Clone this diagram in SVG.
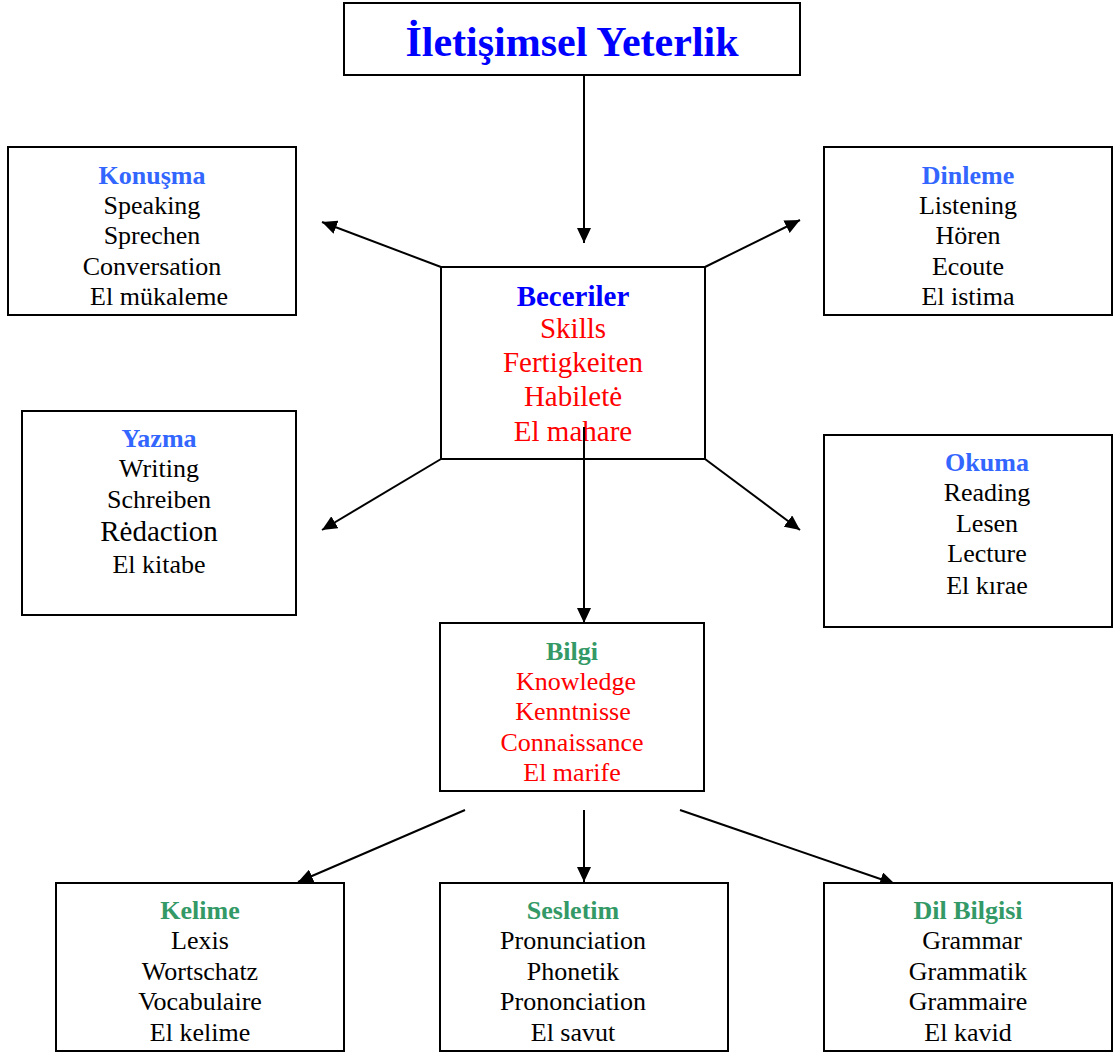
<svg xmlns="http://www.w3.org/2000/svg" width="1113" height="1052" viewBox="0 0 1113 1052">
<style>
rect.box{fill:#fff;stroke:#000;stroke-width:2}
text{font-family:"Liberation Serif","Times New Roman",serif;font-size:26px;text-anchor:middle;fill:#000}
.title{font-size:42px;font-weight:bold;fill:#0000FF}
.hb{font-weight:bold;fill:#3366FF}
.hg{font-weight:bold;fill:#339966}
.hbb{font-weight:bold;fill:#0000FF;font-size:29px}
.red{fill:#FF0000}
.big{font-size:29px}
#connectors line{stroke:#000;stroke-width:2;marker-end:url(#ah)}
</style>
<defs>
<marker id="ah" markerUnits="userSpaceOnUse" markerWidth="16" markerHeight="14" refX="15" refY="7" orient="auto">
<path d="M0,0 L15,7 L0,14 z" fill="#000"/>
</marker>
</defs>
<rect width="1113" height="1052" fill="#fff"/>
<g id="connectors">
<line x1="584" y1="75" x2="584" y2="243"/>
<line x1="441" y1="267" x2="322" y2="222"/>
<line x1="705" y1="267" x2="800" y2="220"/>
<line x1="441" y1="459" x2="322" y2="530"/>
<line x1="705" y1="459" x2="800" y2="530"/>
<line x1="465" y1="810" x2="298" y2="882"/>
<line x1="584" y1="810" x2="584" y2="882"/>
<line x1="680" y1="810" x2="895" y2="884"/>
</g>
<g id="title">
<rect class="box" x="344" y="3" width="456" height="72"/>
<text class="title" x="572" y="56">İletişimsel Yeterlik</text>
</g>
<g id="konusma">
<rect class="box" x="8" y="147" width="288" height="168"/>
<text class="hb" x="152" y="184">Konuşma</text>
<text x="152" y="214">Speaking</text>
<text x="152" y="244">Sprechen</text>
<text x="152" y="275">Conversation</text>
<text x="159" y="305">El mükaleme</text>
</g>
<g id="dinleme">
<rect class="box" x="824" y="147" width="288" height="168"/>
<text class="hb" x="968" y="184">Dinleme</text>
<text x="968" y="214">Listening</text>
<text x="968" y="244">Hören</text>
<text x="968" y="275">Ecoute</text>
<text x="968" y="305">El istima</text>
</g>
<g id="beceriler">
<rect class="box" x="441" y="267" width="264" height="192"/>
<text class="hbb" x="573" y="306">Beceriler</text>
<text class="red big" x="573" y="338">Skills</text>
<text class="red big" x="573" y="372">Fertigkeiten</text>
<text class="red big" x="573" y="406">Habiletė</text>
<text class="red big" x="573" y="441">El mahare</text>
</g>
<line x1="584" y1="427" x2="584" y2="623" stroke="#000" stroke-width="2" marker-end="url(#ah)"/>
<g id="yazma">
<rect class="box" x="22" y="411" width="274" height="204"/>
<text class="hb" x="159" y="447">Yazma</text>
<text x="159" y="477">Writing</text>
<text x="159" y="508">Schreiben</text>
<text class="big" x="159" y="541">Rėdaction</text>
<text x="159" y="573">El kitabe</text>
</g>
<g id="okuma">
<rect class="box" x="824" y="435" width="288" height="192"/>
<text class="hb" x="987" y="471">Okuma</text>
<text x="987" y="501">Reading</text>
<text x="987" y="532">Lesen</text>
<text x="987" y="562">Lecture</text>
<text x="987" y="594">El kırae</text>
</g>
<g id="bilgi">
<rect class="box" x="440" y="623" width="264" height="168"/>
<text class="hg" x="572" y="660">Bilgi</text>
<text class="red" x="576" y="690">Knowledge</text>
<text class="red" x="573" y="720">Kenntnisse</text>
<text class="red" x="572" y="751">Connaissance</text>
<text class="red" x="572" y="781">El marife</text>
</g>
<g id="kelime">
<rect class="box" x="56" y="883" width="288" height="168"/>
<text class="hg" x="200" y="919">Kelime</text>
<text x="200" y="949">Lexis</text>
<text x="200" y="980">Wortschatz</text>
<text x="200" y="1010">Vocabulaire</text>
<text x="200" y="1041">El kelime</text>
</g>
<g id="sesletim">
<rect class="box" x="440" y="883" width="288" height="168"/>
<text class="hg" x="573" y="919">Sesletim</text>
<text x="573" y="949">Pronunciation</text>
<text x="573" y="980">Phonetik</text>
<text x="573" y="1010">Prononciation</text>
<text x="573" y="1041">El savut</text>
</g>
<g id="dilbilgisi">
<rect class="box" x="824" y="883" width="288" height="168"/>
<text class="hg" x="968" y="919">Dil Bilgisi</text>
<text x="972" y="949">Grammar</text>
<text x="968" y="980">Grammatik</text>
<text x="968" y="1010">Grammaire</text>
<text x="968" y="1041">El kavid</text>
</g>
</svg>
